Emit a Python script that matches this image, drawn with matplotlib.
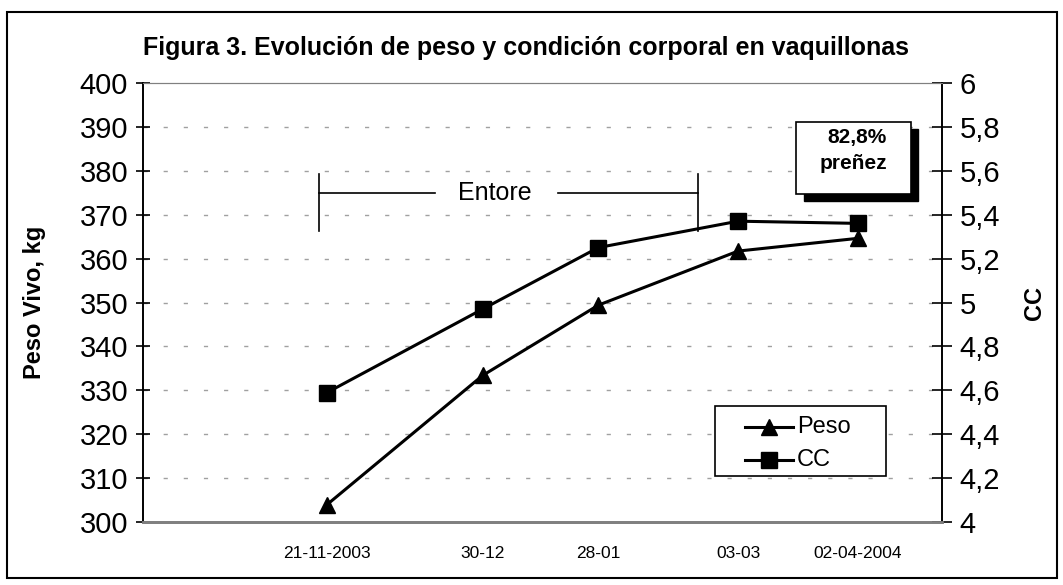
import numpy as np
import pandas as pd
import matplotlib
matplotlib.use('Agg')
import matplotlib.pyplot as plt
from matplotlib.patches import Rectangle
from matplotlib.lines import Line2D

plt.rcParams['font.family'] = ['Liberation Sans', 'DejaVu Sans']

# data
fechas = ['2003-11-21', '2003-12-30', '2004-01-28', '2004-03-03', '2004-04-02']
etiquetas = ['21-11-2003', '30-12', '28-01', '03-03', '02-04-2004']
peso = [304, 333.4, 349.4, 361.7, 364.6]
cc = [4.59, 4.97, 5.25, 5.37, 5.36]

x = pd.to_datetime(fechas)

fig = plt.figure(figsize=(10.63, 5.85), dpi=100)
ax = fig.add_axes([0.1348, 0.1072, 0.7511, 0.7514])
ax2 = ax.twinx()

# grid
for v in range(310, 400, 10):
    ax.axhline(v, color='#a0a0a0', lw=1.0, ls=(0, (3, 11.5)), zorder=0)

ax.plot(x, peso, color='k', lw=2.2, marker='^', ms=12, zorder=3)
ax2.plot(x, cc, color='k', lw=2.2, marker='s', ms=11, zorder=3)

ax.set_xlim(pd.Timestamp('2003-10-06'), pd.Timestamp('2004-04-23'))
ax.set_ylim(300, 400)
ax2.set_ylim(4, 6)
ax.set_yticks(range(300, 401, 10))
ct = np.round(np.arange(4, 6.01, 0.2), 1)
ax2.set_yticks(ct)
ax2.set_yticklabels([('%g' % t).replace('.', ',') for t in ct])
ax.set_xticks(x)
ax.set_xticklabels(etiquetas, fontsize=12.5)
ax.tick_params(axis='x', length=0, pad=17)
ax.tick_params(axis='y', direction='inout', length=10, width=1.2, labelsize=21, pad=6)
ax2.tick_params(axis='y', direction='inout', length=14, width=1.2, labelsize=21, pad=6)

for a in (ax, ax2):
    a.spines['top'].set_color('#808080')
    a.spines['bottom'].set_color('#808080')
    a.spines['bottom'].set_linewidth(2)
    a.spines['left'].set_linewidth(1.2)
    a.spines['right'].set_linewidth(1.2)

ax.set_ylabel('Peso Vivo, kg', fontsize=17, fontweight='bold', labelpad=24)
ax2.set_ylabel('CC', fontsize=17, fontweight='bold', labelpad=16)
fig.text(0.495, 0.918, 'Figura 3. Evolución de peso y condición corporal en vaquillonas',
         ha='center', va='center', fontsize=18, fontweight='bold')

# Entore bracket
t0 = pd.Timestamp('2003-11-19')
t1 = pd.Timestamp('2004-02-22')
ax.plot([t0, t0], [366.3, 379.2], color='k', lw=1.2)
ax.plot([t1, t1], [366.3, 379.2], color='k', lw=1.2)
ax.plot([t0, pd.Timestamp('2003-12-18')], [374.8, 374.8], color='k', lw=1.2)
ax.plot([pd.Timestamp('2004-01-18'), t1], [374.8, 374.8], color='k', lw=1.2)
ax.text(pd.Timestamp('2004-01-02'), 374.8, 'Entore', ha='center', va='center', fontsize=18)

# box with shadow
ax2.add_patch(Rectangle((0.827, 0.7309), 0.1435, 0.1645, transform=ax2.transAxes,
                        facecolor='k', edgecolor='k', zorder=4, clip_on=False))
ax2.add_patch(Rectangle((0.818, 0.7468), 0.1435, 0.1645, transform=ax2.transAxes,
                        facecolor='white', edgecolor='k', lw=1.2, zorder=5, clip_on=False))
ax2.text(0.894, 0.8765, '82,8%', transform=ax2.transAxes, ha='center', va='center',
         fontsize=15, fontweight='bold', zorder=6)
ax2.text(0.889, 0.8155, 'preñez', transform=ax2.transAxes, ha='center', va='center',
         fontsize=15, fontweight='bold', zorder=6)

# legend (drawn by hand to match the wide box)
ax2.add_patch(Rectangle((0.716, 0.1053), 0.2146, 0.1593, transform=ax2.transAxes,
                        facecolor='white', edgecolor='k', lw=1.2, zorder=6))
for yy, mk, ms, lab in [(0.2168, '^', 12, 'Peso'), (0.1417, 's', 11, 'CC')]:
    ax2.add_line(Line2D([0.7535, 0.8138], [yy, yy], transform=ax2.transAxes,
                        color='k', lw=2.2, zorder=7))
    ax2.add_line(Line2D([0.7836], [yy], transform=ax2.transAxes, color='k',
                        marker=mk, ms=ms, zorder=7))
    ax2.text(0.8185, yy, lab, transform=ax2.transAxes, ha='left', va='center',
             fontsize=17, zorder=7)

# figure border
fig.patches.append(Rectangle((0.0066, 0.012), 0.9878, 0.968, transform=fig.transFigure,
                             fill=False, edgecolor='k', lw=1.5))

fig.savefig('out.png', dpi=100)
